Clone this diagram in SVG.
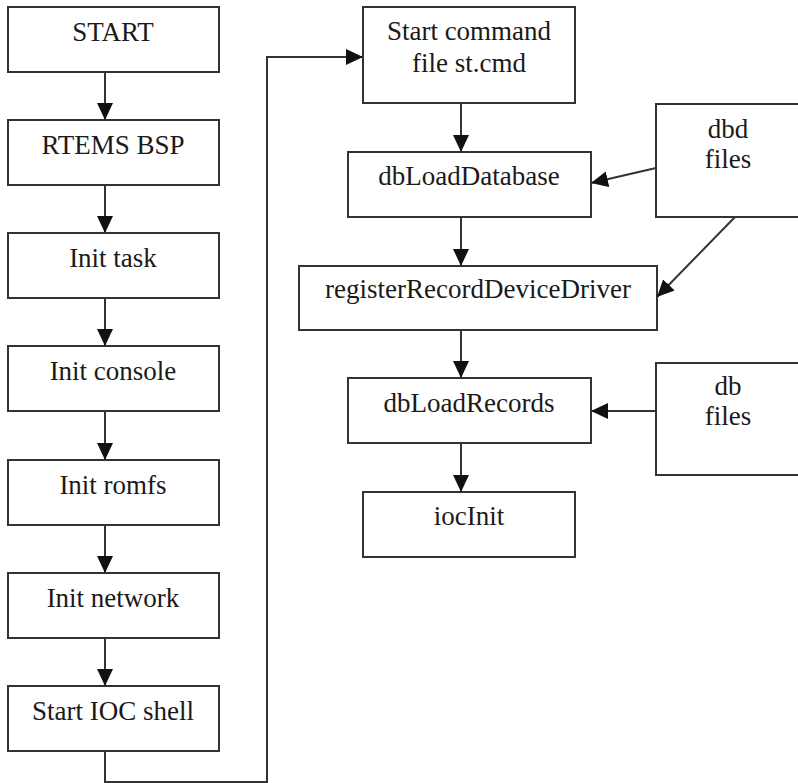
<svg xmlns="http://www.w3.org/2000/svg" width="798" height="783" viewBox="0 0 798 783">
  <style>
    .box { fill: #ffffff; stroke: #333333; stroke-width: 2; }
    .lbl { font-family: 'Liberation Serif', 'Times New Roman', Times, serif; font-size: 27px; fill: #1a1a1a; text-anchor: middle; }
    .wire { fill: none; stroke: #333333; stroke-width: 2; }
  </style>
  <defs>
    <marker id="arrow" markerUnits="userSpaceOnUse" markerWidth="18" markerHeight="18" refX="17" refY="8" orient="auto">
      <path d="M0,0 L17,8 L0,16 Z" fill="#111111"/>
    </marker>
  </defs>
  <rect width="798" height="783" fill="#ffffff"/>

  <!-- boot sequence (left column) -->
  <g id="start"><rect class="box" x="8" y="7" width="211" height="65"/><text class="lbl" font-family="Liberation Serif, serif" x="113" y="41">START</text></g>
  <g id="rtems-bsp"><rect class="box" x="8" y="120" width="211" height="65"/><text class="lbl" font-family="Liberation Serif, serif" x="113" y="154">RTEMS BSP</text></g>
  <g id="init-task"><rect class="box" x="8" y="233" width="211" height="65"/><text class="lbl" font-family="Liberation Serif, serif" x="113" y="267">Init task</text></g>
  <g id="init-console"><rect class="box" x="8" y="346" width="211" height="65"/><text class="lbl" font-family="Liberation Serif, serif" x="113" y="380">Init console</text></g>
  <g id="init-romfs"><rect class="box" x="8" y="460" width="211" height="65"/><text class="lbl" font-family="Liberation Serif, serif" x="113" y="494">Init romfs</text></g>
  <g id="init-network"><rect class="box" x="8" y="573" width="211" height="65"/><text class="lbl" font-family="Liberation Serif, serif" x="113" y="607">Init network</text></g>
  <g id="start-ioc-shell"><rect class="box" x="8" y="686" width="211" height="65"/><text class="lbl" font-family="Liberation Serif, serif" x="113" y="720">Start IOC shell</text></g>

  <!-- st.cmd processing (right column) -->
  <g id="start-command"><rect class="box" x="363" y="7" width="212" height="96"/><text class="lbl" font-family="Liberation Serif, serif" x="469" y="40">Start command</text><text class="lbl" font-family="Liberation Serif, serif" x="469" y="72">file st.cmd</text></g>
  <g id="db-load-database"><rect class="box" x="348" y="152" width="243" height="65"/><text class="lbl" font-family="Liberation Serif, serif" x="469" y="185">dbLoadDatabase</text></g>
  <g id="register-record-device-driver"><rect class="box" x="299" y="266" width="358" height="64"/><text class="lbl" font-family="Liberation Serif, serif" x="478" y="298">registerRecordDeviceDriver</text></g>
  <g id="db-load-records"><rect class="box" x="348" y="378" width="243" height="65"/><text class="lbl" font-family="Liberation Serif, serif" x="469" y="412">dbLoadRecords</text></g>
  <g id="ioc-init"><rect class="box" x="363" y="492" width="212" height="65"/><text class="lbl" font-family="Liberation Serif, serif" x="469" y="525">iocInit</text></g>

  <!-- input files -->
  <g id="dbd-files"><rect class="box" x="656" y="104" width="150" height="113"/><text class="lbl" font-family="Liberation Serif, serif" x="728" y="138">dbd</text><text class="lbl" font-family="Liberation Serif, serif" x="728" y="168">files</text></g>
  <g id="db-files"><rect class="box" x="656" y="363" width="150" height="112"/><text class="lbl" font-family="Liberation Serif, serif" x="728" y="395">db</text><text class="lbl" font-family="Liberation Serif, serif" x="728" y="425">files</text></g>

  <!-- connectors -->
  <g id="connectors">
    <line class="wire" x1="105" y1="72" x2="105" y2="120" marker-end="url(#arrow)"/>
    <line class="wire" x1="105" y1="185" x2="105" y2="233" marker-end="url(#arrow)"/>
    <line class="wire" x1="105" y1="298" x2="105" y2="346" marker-end="url(#arrow)"/>
    <line class="wire" x1="105" y1="411" x2="105" y2="460" marker-end="url(#arrow)"/>
    <line class="wire" x1="105" y1="525" x2="105" y2="573" marker-end="url(#arrow)"/>
    <line class="wire" x1="105" y1="638" x2="105" y2="686" marker-end="url(#arrow)"/>
    <polyline class="wire" points="105,751 105,782 267,782 267,57 363,57" marker-end="url(#arrow)"/>

    <line class="wire" x1="461" y1="103" x2="461" y2="152" marker-end="url(#arrow)"/>
    <line class="wire" x1="461" y1="217" x2="461" y2="266" marker-end="url(#arrow)"/>
    <line class="wire" x1="461" y1="330" x2="461" y2="378" marker-end="url(#arrow)"/>
    <line class="wire" x1="461" y1="443" x2="461" y2="492" marker-end="url(#arrow)"/>

    <line class="wire" x1="656" y1="168" x2="591" y2="183" marker-end="url(#arrow)"/>
    <line class="wire" x1="735" y1="217" x2="657" y2="297" marker-end="url(#arrow)"/>
    <line class="wire" x1="656" y1="411" x2="591" y2="411" marker-end="url(#arrow)"/>
  </g>
</svg>
